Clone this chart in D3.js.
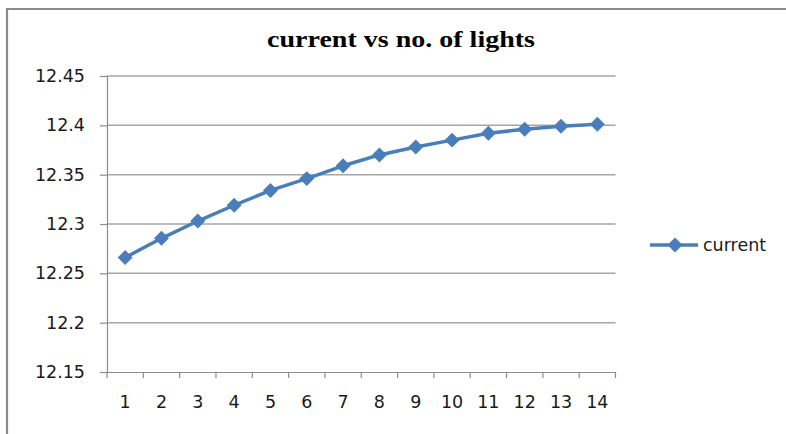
<!DOCTYPE html>
<html><head><meta charset="utf-8">
<script src="https://cdn.jsdelivr.net/npm/d3@7"></script>
<style>body{margin:0;background:#fff}svg{display:block}</style>
</head><body>
<svg id="c" width="786" height="434"></svg>
<script>
const categories = [1,2,3,4,5,6,7,8,9,10,11,12,13,14];
const current = [12.266,12.2855,12.303,12.319,12.334,12.346,12.359,12.370,12.378,12.385,12.392,12.396,12.399,12.401];
const yTicks = [12.15,12.2,12.25,12.3,12.35,12.4,12.45];
const yTickLabels = ["12.15","12.2","12.25","12.3","12.35","12.4","12.45"];
const chartTitle = "current vs no. of lights";
const seriesName = "current";

(function(){
const svg = d3.select("#c");
const W = 786, H = 434;
const pL = 107, pR = 615.5, pT = 76, pB = 372;
const blue = "#4a7ebb", grid = "#a6a6a6", axisCol = "#8c8c8c";
const font = "'DejaVu Sans', sans-serif";

// frame
svg.append("path").attr("d", `M7,${H+2} L7,9 L${W+2},9`).attr("fill","none").attr("stroke","#8a8a8a").attr("stroke-width",2.2);

const x = d3.scaleBand().domain(categories).range([pL, pR]);
const y = d3.scaleLinear().domain([12.15, 12.45]).range([pB, pT]);

// gridlines
svg.append("g").selectAll("line").data(yTicks.slice(1)).join("line")
  .attr("x1", pL).attr("x2", pR)
  .attr("y1", d => y(d)).attr("y2", d => y(d))
  .attr("stroke", grid).attr("stroke-width", 1.5);

// y axis
const yAxis = d3.axisLeft(y).tickValues(yTicks).tickSize(7).tickPadding(15)
  .tickFormat((d,i) => yTickLabels[i]);
const gy = svg.append("g").attr("transform", `translate(${pL},0)`).call(yAxis);
gy.select(".domain").attr("stroke", axisCol).attr("stroke-width", 1.2);
gy.selectAll(".tick line").attr("stroke", axisCol).attr("stroke-width", 1.2);
gy.selectAll(".tick text").attr("font-family", font).attr("font-size", 17.5).attr("fill","#1a1a1a");

// x axis
const gx = svg.append("g").attr("transform", `translate(0,${pB})`).call(d3.axisBottom(x).tickSize(0).tickPadding(24));
gx.select(".domain").attr("stroke", axisCol).attr("stroke-width", 1.2);
gx.selectAll(".tick text").attr("font-family", font).attr("font-size", 17.5).attr("fill","#1a1a1a");
const bounds = categories.map(c => x(c)).concat([x(categories[categories.length-1]) + x.bandwidth()]);
gx.selectAll("line.bt").data(bounds).join("line").attr("class","bt")
  .attr("x1", d => d).attr("x2", d => d).attr("y1", 0).attr("y2", 6)
  .attr("stroke", axisCol).attr("stroke-width", 1.2);

// line
const cx = d => x(d) + x.bandwidth()/2;
const line = d3.line().x((d,i) => cx(categories[i])).y(d => y(d));
svg.append("path").datum(current).attr("d", line).attr("fill","none")
  .attr("stroke", blue).attr("stroke-width", 3.5).attr("stroke-linejoin","round");

const diamond = d3.symbol().type(d3.symbolSquare).size(112);
svg.append("g").selectAll("path").data(current).join("path")
  .attr("d", diamond)
  .attr("transform", (d,i) => `translate(${cx(categories[i])},${y(d)}) rotate(45)`)
  .attr("fill", blue);

// title
svg.append("text").attr("x", 401).attr("y", 47).attr("text-anchor","middle")
  .attr("font-family","'Liberation Serif', 'Times New Roman', serif").attr("font-weight","bold")
  .attr("font-size", 23).attr("textLength", 268).attr("lengthAdjust","spacingAndGlyphs")
  .attr("fill","#000").text(chartTitle);

// legend
const lg = svg.append("g").attr("transform","translate(650,245)");
lg.append("line").attr("x1",0).attr("x2",48).attr("y1",0).attr("y2",0).attr("stroke",blue).attr("stroke-width",3.5);
lg.append("path").attr("d", diamond).attr("transform","translate(25,0) rotate(45)").attr("fill",blue);
lg.append("text").attr("x",53).attr("y",0).attr("dy","0.35em").attr("font-family",font)
  .attr("font-size",17.5).attr("fill","#1a1a1a").text(seriesName);
})();
</script>
</body></html>
